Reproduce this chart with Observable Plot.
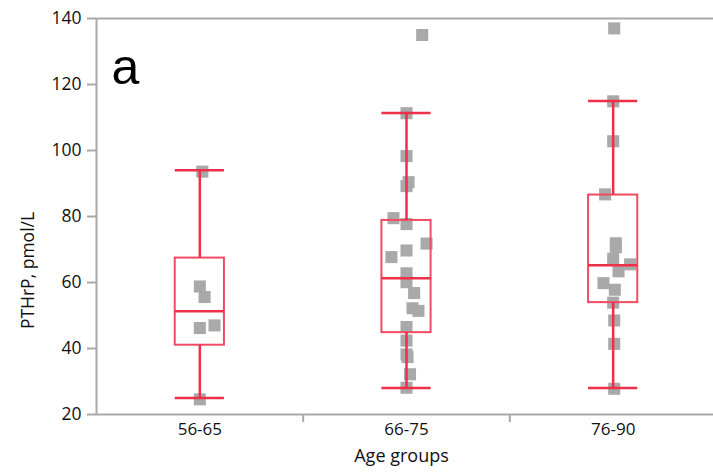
<!DOCTYPE html>
<html><head><meta charset="utf-8">
<script src="https://cdn.jsdelivr.net/npm/d3@7"></script>
<script src="https://cdn.jsdelivr.net/npm/@observablehq/plot@0.6"></script>
<style>body{margin:0;background:#fff;}</style>
</head><body><div id="chart"></div>
<script>
// Categories and tick labels
const groups = ["56-65", "66-75", "76-90"];
const yTicks = [20, 40, 60, 80, 100, 120, 140];
const panelLabel = "a";
const yLabel = "PTHrP, pmol/L";
const xLabel = "Age groups";

// Box statistics per group
const whiskerLow  = [25, 28, 28];
const q1          = [41, 44.8, 53.9];
const median      = [51.3, 61.3, 65.2];
const q3          = [67.4, 78.8, 86.5];
const whiskerHigh = [94, 111.4, 115];

// Individual observations (value) and horizontal jitter (in group units)
const g1Values = [93.6, 58.8, 55.6, 47, 46.2, 24.6];
const g1Jitter = [0.012, 0, 0.023, 0.071, 0, 0];
const g2Values = [135, 111.3, 98.3, 90.4, 89.2, 79.5, 77.7, 71.8, 69.7, 67.7, 62.8, 60.1, 56.8, 52.2, 51.4, 46.5, 42.4, 38.2, 37.4, 32.2, 28.1];
const g2Jitter = [0.076, 0, 0, 0.01, 0, -0.063, 0, 0.097, 0, -0.073, 0, 0, 0.037, 0.029, 0.058, 0, 0, 0, 0.005, 0.017, 0];
const g3Values = [137, 114.9, 102.8, 86.7, 71.9, 70.7, 67.2, 65.5, 63.4, 59.8, 57.8, 53.9, 48.5, 41.4, 27.8];
const g3Jitter = [0.005, 0, 0, -0.039, 0.013, 0.013, 0, 0.082, 0.026, -0.047, 0.008, 0, 0.005, 0.005, 0.005];

const valuesByGroup = [g1Values, g2Values, g3Values];
const jitterByGroup = [g1Jitter, g2Jitter, g3Jitter];

const points = valuesByGroup.flatMap((vals, i) => vals.map((v, k) => ({x: i + jitterByGroup[i][k], y: v})));
const boxes = groups.map((g, i) => ({i, lo: whiskerLow[i], q1: q1[i], med: median[i], q3: q3[i], hi: whiskerHigh[i]}));

const half = 0.119;
const red = "#ee2f48";
const boxRed = "#f04b63";
const gray = "#a9a9a9";

const chart = Plot.plot({
  width: 713,
  height: 475,
  marginTop: 18,
  marginBottom: 61,
  marginLeft: 96,
  marginRight: -3,
  style: {fontFamily: "'Open Sans', sans-serif", fontSize: "17px", color: "#111", background: "#fff", overflow: "visible"},
  x: {domain: [-0.5, groups.length - 0.5]},
  y: {domain: [20, 140]},
  marks: [
    Plot.frame({stroke: gray, strokeWidth: 2}),
    Plot.axisY({ticks: yTicks, tickSize: 9, tickPadding: 6, stroke: gray, strokeWidth: 2, label: null, fontSize: 17.5}),
    Plot.axisX({ticks: d3.range(1, groups.length).map(i => i - 0.5), tickSize: 8, stroke: gray, strokeWidth: 2, tickFormat: () => "", label: null}),
    Plot.axisX({ticks: d3.range(groups.length), tickSize: 0, tickPadding: 8, tickFormat: i => groups[i], label: null, fontSize: 17}),
    Plot.dot(points, {x: "x", y: "y", symbol: "square", r: 6.8, fill: gray, stroke: "none"}),
    Plot.rect(boxes, {x1: d => d.i - half, x2: d => d.i + half, y1: "q1", y2: "q3", fill: "none", stroke: boxRed, strokeWidth: 2}),
    Plot.ruleY(boxes, {y: "med", x1: d => d.i - half, x2: d => d.i + half, stroke: red, strokeWidth: 2.5}),
    Plot.ruleX(boxes, {x: "i", y1: "lo", y2: "q1", stroke: red, strokeWidth: 2.5}),
    Plot.ruleX(boxes, {x: "i", y1: "q3", y2: "hi", stroke: red, strokeWidth: 2.5}),
    Plot.ruleY(boxes, {y: "lo", x1: d => d.i - half, x2: d => d.i + half, stroke: red, strokeWidth: 2.5}),
    Plot.ruleY(boxes, {y: "hi", x1: d => d.i - half, x2: d => d.i + half, stroke: red, strokeWidth: 2.5}),
    Plot.text([panelLabel], {frameAnchor: "top-left", dx: 15, dy: 65, lineAnchor: "bottom", textAnchor: "start", fontSize: 50, fontFamily: "'Liberation Sans', Arial, sans-serif", fill: "#000"}),
    Plot.text([yLabel], {frameAnchor: "left", rotate: -90, dx: -68, dy: 54, textAnchor: "middle", fontSize: 17.5}),
    Plot.text([xLabel], {frameAnchor: "bottom", dx: -5, dy: 47, textAnchor: "middle", fontSize: 18})
  ]
});
document.getElementById("chart").appendChild(chart);
</script>
</body></html>
